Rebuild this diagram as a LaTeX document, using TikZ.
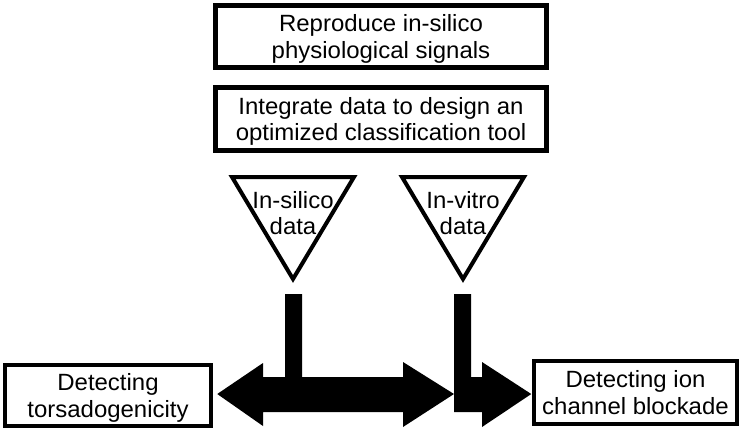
\documentclass[tikz,border=0pt]{standalone}
\usepackage{fontspec}
\usepackage{graphicx}
\setmainfont{Liberation Sans}
\usetikzlibrary{calc}
\newcommand{\wide}[1]{\scalebox{1.02}[1]{#1}}
\tikzset{
  txt/.style={font=\fontsize{23.5pt}{26.5pt}\selectfont, align=center, inner sep=0pt},
  boxed/.style={draw, line width=5pt, inner sep=0pt, txt, text depth=0pt},
  lowbox/.style={draw, line width=4.5pt, inner sep=0pt, txt, text depth=0pt},
  tri/.style={draw, line width=4pt, line join=miter},
  bigarrow/.style={fill=black, draw=none}
}
\begin{document}
\begin{tikzpicture}[x=1pt,y=-1pt]
\useasboundingbox (0,0) rectangle (742,432);
% top boxes
\node[boxed, minimum width=331pt, minimum height=62pt] (repro) at (381,36.5)
  {\wide{Reproduce in-silico}\\\wide{physiological signals}};
\node[boxed, minimum width=331pt, minimum height=63pt] (integ) at (381,119)
  {\wide{Integrate data to design an}\\\wide{optimized classification tool}};
% triangles
\draw[tri] (232,177) -- (354,177) -- (293,279) -- cycle;
\draw[tri] (402,177) -- (524,177) -- (463,279) -- cycle;
\node[txt] (insilico) at (293,213) {\wide{In-silico}\\\wide{data}};
\node[txt] (invitro) at (463,213) {\wide{In-vitro}\\\wide{data}};
% bottom boxes
\node[lowbox, minimum width=206pt, minimum height=61pt] (torsa) at (108,395.5)
  {\wide{Detecting}\\\wide{torsadogenicity}};
\node[lowbox, minimum width=203pt, minimum height=63pt] (ion) at (635.5,392.5)
  {\wide{Detecting ion}\\\wide{channel blockade}};
% stem tops below the triangles
\coordinate (s1) at (293.5,294);
\coordinate (s2) at (462.5,294);
% double arrow with stem from in-silico data
\fill[bigarrow] ($(torsa.east)+(4,-1.5)$) -- (263,363) -- (263,377) -- ($(s1)+(-8.5,83)$)
  -- ($(s1)+(-8.5,0)$) -- ($(s1)+(8.5,0)$) -- ($(s1)+(8.5,83)$) -- (403,377) -- (403,362)
  -- (454,394) -- (403,427) -- (403,412) -- (263,412) -- (263,426) -- cycle;
% bent arrow from in-vitro data
\fill[bigarrow] ($(s2)+(-8.5,0)$) -- ($(s2)+(8.5,0)$) -- ($(s2)+(8.5,83)$) -- (482,377)
  -- (482,362) -- ($(ion.west)+(-0.5,1.5)$) -- (482,427) -- (482,412) -- ($(s2)+(-8.5,118)$) -- cycle;
\end{tikzpicture}
\end{document}
